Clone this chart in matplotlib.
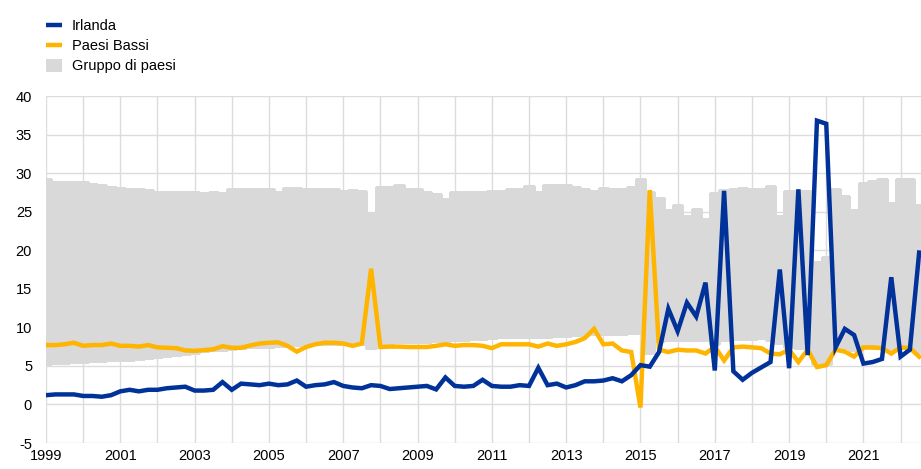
import matplotlib
matplotlib.use("Agg")
import matplotlib.pyplot as plt
from matplotlib.lines import Line2D
from matplotlib.patches import Patch
import numpy as np

plt.rcParams['font.family'] = ['Liberation Sans', 'DejaVu Sans']
plt.rcParams['axes.unicode_minus'] = False

# Quarterly data, 1999Q1 .. 2022Q3
start_year = 1999
irlanda = [1.2, 1.3, 1.3, 1.3, 1.1, 1.1, 1.0, 1.2,
           1.7, 1.9, 1.7, 1.9, 1.9, 2.1, 2.2, 2.3,
           1.8, 1.8, 1.9, 2.9, 1.9, 2.7, 2.6, 2.5,
           2.7, 2.5, 2.6, 3.1, 2.3, 2.5, 2.6, 2.9,
           2.4, 2.2, 2.1, 2.5, 2.4, 2.0, 2.1, 2.2,
           2.3, 2.4, 1.95, 3.5, 2.4, 2.3, 2.4, 3.2,
           2.4, 2.3, 2.3, 2.5, 2.4, 4.75, 2.5, 2.7,
           2.2, 2.5, 3.0, 3.0, 3.1, 3.4, 3.0, 3.8,
           5.1, 4.9, 6.8, 12.4, 9.5, 13.2, 11.4, 15.8,
           4.4, 27.7, 4.3, 3.2, 4.1, 4.8, 5.5, 17.5,
           4.7, 27.9, 6.4, 36.8, 36.4, 7.4, 9.8, 9.0,
           5.3, 5.5, 5.9, 16.5, 6.2, 7.1, 19.7]
paesi_bassi = [7.7, 7.7, 7.8, 8.0, 7.6, 7.7, 7.7, 7.9,
               7.6, 7.6, 7.5, 7.7, 7.4, 7.35, 7.3, 7.0,
               6.95, 7.05, 7.15, 7.55, 7.35, 7.35, 7.65, 7.9,
               8.0, 8.05, 7.6, 6.85, 7.45, 7.8, 8.0, 8.0,
               7.9, 7.6, 7.9, 17.6, 7.45, 7.5, 7.5, 7.45,
               7.45, 7.45, 7.6, 7.8, 7.6, 7.7, 7.7, 7.6,
               7.3, 7.8, 7.8, 7.8, 7.8, 7.5, 7.9, 7.6,
               7.8, 8.1, 8.6, 9.8, 7.8, 7.9, 7.0, 6.8,
               -0.4, 27.8, 7.1, 6.8, 7.1, 7.0, 7.0, 6.6,
               7.5, 5.7, 7.4, 7.5, 7.4, 7.3, 6.6, 6.5,
               7.1, 5.5, 7.1, 4.85, 5.1, 7.1, 6.85, 6.2,
               7.4, 7.4, 7.3, 6.6, 7.4, 7.3, 6.2]
gruppo_max = [29.2, 28.9, 28.8, 28.9, 28.9, 28.6, 28.4, 28.2,
              28.1, 28.0, 27.9, 27.8, 27.6, 27.6, 27.5, 27.6,
              27.6, 27.4, 27.5, 27.4, 27.9, 27.9, 28.0, 28.0,
              27.9, 27.6, 28.1, 28.1, 28.0, 28.0, 27.9, 27.9,
              27.7, 27.8, 27.7, 24.8, 28.2, 28.2, 28.5, 28.0,
              28.0, 27.6, 27.3, 26.6, 27.6, 27.6, 27.6, 27.5,
              27.7, 27.7, 28.0, 28.0, 28.3, 27.6, 28.4, 28.4,
              28.4, 28.2, 28.0, 27.7, 28.1, 28.0, 28.0, 28.2,
              29.2, 27.5, 26.8, 25.2, 25.8, 24.4, 25.3, 24.0,
              27.4, 27.8, 27.9, 28.1, 27.9, 27.9, 28.3, 24.4,
              27.7, 27.7, 27.7, 18.5, 19.1, 27.9, 27.0, 25.2,
              28.7, 29.0, 29.3, 26.1, 29.3, 29.2, 25.8]
gruppo_min = [5.3, 5.4, 5.4, 5.5, 5.5, 5.6, 5.6, 5.7,
              5.7, 5.8, 5.9, 6.0, 6.1, 6.3, 6.4, 6.6,
              6.7, 6.9, 7.0, 7.1, 7.2, 7.3, 7.4, 7.5,
              7.5, 7.6, 7.6, 7.7, 7.8, 7.8, 7.8, 7.9,
              7.9, 7.9, 7.9, 7.3, 8.0, 8.0, 8.1, 8.1,
              8.1, 8.1, 8.2, 8.2, 8.3, 8.4, 8.5, 8.5,
              8.6, 8.7, 8.7, 8.7, 8.8, 8.8, 8.8, 8.9,
              8.9, 9.0, 9.0, 9.1, 9.1, 9.2, 9.2, 9.3,
              9.3, 6.7, 8.2, 8.4, 8.3, 8.4, 8.3, 8.3,
              7.9, 8.4, 8.5, 8.5, 8.5, 8.6, 8.4, 8.0,
              7.4, 7.3, 7.3, 5.3, 5.3, 7.3, 7.3, 7.0,
              7.3, 7.3, 7.4, 7.2, 7.3, 7.2, 6.8]

legend_labels = ["Irlanda", "Paesi Bassi", "Gruppo di paesi"]

BLUE = "#003299"
YELLOW = "#FFB400"
GREY = "#D9D9D9"
GRID = "#DCDCDC"

n = len(irlanda)
x = start_year + np.arange(n) / 4.0
lo = np.array(gruppo_min)
hi = np.array(gruppo_max)

fig = plt.figure(figsize=(9.21, 4.69), dpi=100)
ax = fig.add_axes([46 / 921, 26 / 469, 875 / 921, 347 / 469])

ax.bar(x, hi - lo, bottom=lo, width=0.25, color=GREY, edgecolor=GREY,
       linewidth=0.8, align='center', zorder=2, antialiased=False)
ax.plot(x, paesi_bassi, color=YELLOW, lw=3.2, zorder=3, solid_joinstyle='miter')
ax.plot(x, irlanda, color=BLUE, lw=3.2, zorder=4, solid_joinstyle='miter')

ax.set_xlim(1999, 2022.55)
ax.set_ylim(-5, 40)
ax.set_yticks(np.arange(-5, 41, 5))
ax.set_yticklabels([str(v) for v in range(-5, 41, 5)])
ax.set_xticks(np.arange(1999, 2023, 1))
ax.set_xticklabels([str(y) if (y - 1999) % 2 == 0 else "" for y in range(1999, 2023)])

ax.grid(True, color=GRID, lw=1.0, zorder=0)
ax.set_axisbelow(True)
for s in ax.spines.values():
    s.set_visible(False)
ax.tick_params(axis='both', length=0, labelsize=10.5, colors='#000000')
ax.tick_params(axis='y', pad=10)
ax.tick_params(axis='x', pad=4)

handles = [Line2D([], [], color=BLUE, lw=3.2, solid_capstyle='butt'),
           Line2D([], [], color=YELLOW, lw=3.2, solid_capstyle='butt'),
           Patch(facecolor=GREY, edgecolor='none')]
fig.legend(handles, legend_labels, loc='upper left',
           bbox_to_anchor=(40 / 921, 1 - 13 / 469), frameon=False,
           fontsize=10.5, handlelength=1.1, handleheight=1.0,
           handletextpad=0.7, labelspacing=0.38, borderaxespad=0)

fig.savefig("out.png", dpi=100)
